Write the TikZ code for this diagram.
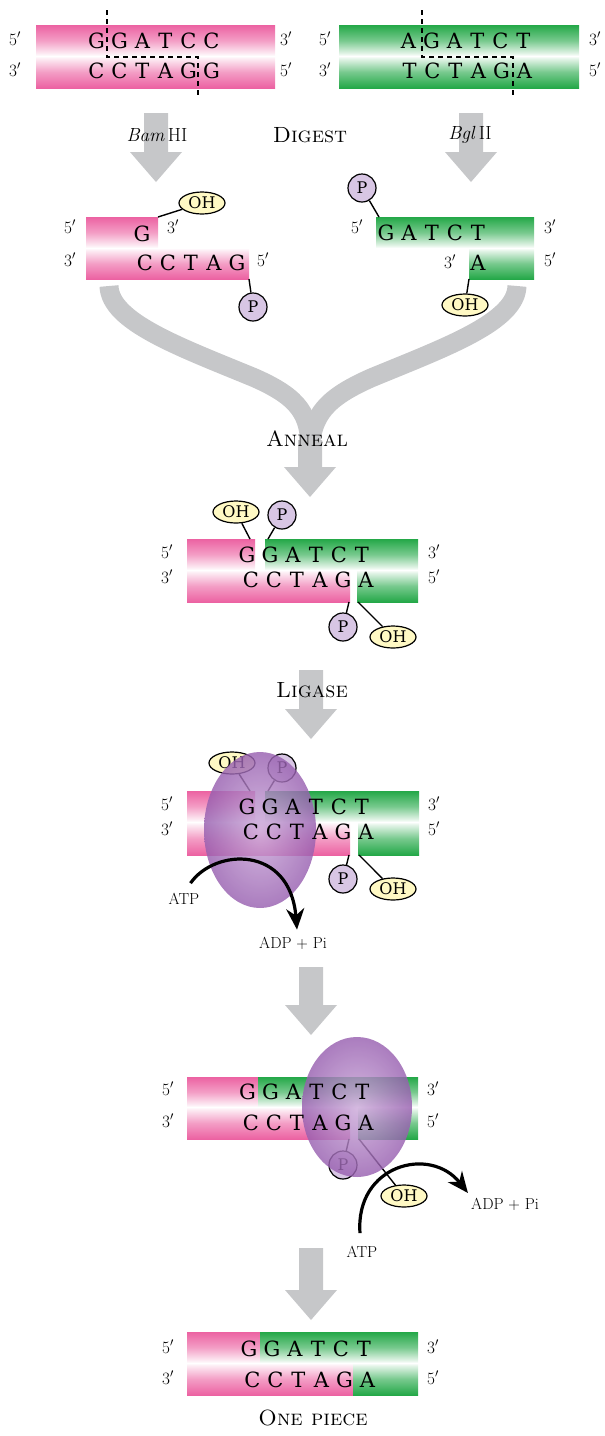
\documentclass[tikz,border=0pt]{standalone}
\usepackage{fontspec}
\usetikzlibrary{shapes.geometric,arrows.meta}

\definecolor{pinkc}{RGB}{236,98,162}
\definecolor{greenc}{RGB}{36,168,72}
\definecolor{arrowgray}{RGB}{198,199,201}
\definecolor{pfill}{RGB}{216,198,228}
\definecolor{ohfill}{RGB}{255,249,196}
\definecolor{enzdark}{RGB}{152,96,176}
\definecolor{enzlight}{RGB}{204,170,218}

\newfontfamily\schoolfont{DejaVu Serif}
\newcommand\dnabasefont{\schoolfont\fontsize{21}{21}\selectfont}
\newcommand\dnaendfont{\fontsize{17}{17}\selectfont}
\newcommand\dnatagfont{\schoolfont\fontsize{16}{16}\selectfont}
\newcommand\dnacapfont{\fontsize{22}{22}\selectfont}
\newcommand\dnanotefont{\fontsize{16}{16}\selectfont}

% strand fills: full colour at the outer edge, fading to white at the pairing line
\pgfdeclareverticalshading{pinkfadeup}{100bp}{color(0bp)=(white); color(25bp)=(white);
  color(29bp)=(pinkc!12); color(50bp)=(pinkc!62); color(75bp)=(pinkc); color(100bp)=(pinkc)}
\pgfdeclareverticalshading{pinkfadedown}{100bp}{color(0bp)=(pinkc); color(25bp)=(pinkc);
  color(50bp)=(pinkc!62); color(71bp)=(pinkc!12); color(75bp)=(white); color(100bp)=(white)}
\pgfdeclareverticalshading{greenfadeup}{100bp}{color(0bp)=(white); color(25bp)=(white);
  color(29bp)=(greenc!12); color(50bp)=(greenc!62); color(75bp)=(greenc); color(100bp)=(greenc)}
\pgfdeclareverticalshading{greenfadedown}{100bp}{color(0bp)=(greenc); color(25bp)=(greenc);
  color(50bp)=(greenc!62); color(71bp)=(greenc!12); color(75bp)=(white); color(100bp)=(white)}

% one base per fixed-width cell
\newcommand\basecell[1]{\makebox[23pt]{#1}}
\def\seqloop#1{\ifx#1\relax\else\basecell{#1}\expandafter\seqloop\fi}
\newcommand\dnaseq[1]{\seqloop#1\relax}

% wide gray process arrow: x, top, neck, tip
\newcommand\flowarrow[4]{%
  \fill[arrowgray] (#1-12,#2) -- (#1+12,#2) -- (#1+12,#3) -- (#1+26,#3)
    -- (#1,#4) -- (#1-26,#3) -- (#1-12,#3) -- cycle;}

\tikzset{
  strip/.style={inner sep=0, outer sep=0, anchor=north west, shade},
  pinkup/.style={strip, shading=pinkfadeup},
  pinkdn/.style={strip, shading=pinkfadedown},
  greenup/.style={strip, shading=greenfadeup},
  greendn/.style={strip, shading=greenfadedown},
  bases/.style={anchor=base, inner sep=0, font=\dnabasefont},
  endlab/.style={anchor=base, inner sep=0, font=\dnaendfont},
  ohtag/.style={ellipse, draw=black, line width=1.2pt, fill=ohfill, inner sep=0,
    minimum width=46pt, minimum height=22pt, font=\dnatagfont},
  ptag/.style={circle, draw=black, line width=1.2pt, fill=pfill, inner sep=0,
    minimum size=28pt, font=\dnatagfont},
  link/.style={line width=1.4pt, black},
  cutline/.style={line width=1.6pt, dash pattern=on 5pt off 4pt},
  stagelabel/.style={font=\dnacapfont, inner sep=0},
  chem/.style={font=\dnanotefont, inner sep=0},
  enzyme/.style={ellipse, inner sep=0, draw=none, inner color=enzlight,
    outer color=enzdark, opacity=0.82},
  turnover/.style={line width=3.2pt, -{Stealth[length=21pt,width=18pt]}},
  branch/.style={draw=arrowgray, line width=19pt},
}

\begin{document}
\begin{tikzpicture}[x=1pt,y=-1pt]
\useasboundingbox (0,0) rectangle (605,1436);

% ---------- anneal: two streams merging ----------
\draw[branch] (109,286) .. controls (110,322) and (180,347) .. (255,378)
  .. controls (300,398) and (310,415) .. (310,450);
\draw[branch] (517,286) .. controls (516,322) and (446,347) .. (371,378)
  .. controls (326,398) and (312,415) .. (310,450);
\flowarrow{310}{440}{467}{497}
\node[stagelabel] (anneal) at (307,439) {\textsc{Anneal}};

% ---------- BamHI site ----------
\node[pinkup, minimum width=239pt, minimum height=31pt] (bamT) at (36,25) {};
\node[pinkdn, minimum width=239pt, minimum height=32pt] (bamB) at (36,56) {};
\node[bases] (bamTs) at (154,48) {\dnaseq{GGATCC}};
\node[bases] (bamBs) at (154,78) {\dnaseq{CCTAGG}};
\node[endlab] (bamL1) at (15,45) {$5'$};
\node[endlab] (bamL2) at (15,76) {$3'$};
\node[endlab] (bamR1) at (286,45) {$3'$};
\node[endlab] (bamR2) at (286,76) {$5'$};
\draw[cutline] (107,10) -- (107,57) -- (198,57) -- (198,97);

% ---------- BglII site ----------
\node[greenup, minimum width=240pt, minimum height=31pt] (bglT) at (339,25) {};
\node[greendn, minimum width=240pt, minimum height=32pt] (bglB) at (339,56) {};
\node[bases] (bglTs) at (466,48) {\dnaseq{AGATCT}};
\node[bases] (bglBs) at (467,78) {\dnaseq{TCTAGA}};
\node[endlab] (bglL1) at (325,45) {$5'$};
\node[endlab] (bglL2) at (325,76) {$3'$};
\node[endlab] (bglR1) at (595,45) {$3'$};
\node[endlab] (bglR2) at (595,76) {$5'$};
\draw[cutline] (422,10) -- (422,57) -- (513,57) -- (513,97);

% ---------- digest ----------
\flowarrow{156}{113}{152}{182}
\flowarrow{471}{113}{152}{182}
\node[chem, font=\fontsize{19}{19}\selectfont] (bamname) at (157,135) {\textit{Bam}\,HI};
\node[stagelabel] (digest) at (310,135) {\textsc{Digest}};
\node[chem, font=\fontsize{19}{19}\selectfont] (bglname) at (470,135) {\textit{Bgl}\,II};

% ---------- BamHI fragment ----------
\node[pinkup, minimum width=72pt, minimum height=31pt] (lfT) at (86,217) {};
\node[pinkdn, minimum width=163pt, minimum height=31pt] (lfB) at (86,248) {};
\node[ohtag] (lfOH) at (202,203) {OH};
\node[ptag] (lfP) at (253,307) {P};
\draw[link] (lfT.north east) -- (lfOH);
\draw[link] (lfB.south east) -- (lfP);
\node[bases] (lfTs) at (142,241) {\dnaseq{G}};
\node[bases] (lfBs) at (191,270) {\dnaseq{CCTAG}};
\node[endlab] (lfL1) at (70,233) {$5'$};
\node[endlab] (lfL2) at (70,266) {$3'$};
\node[endlab] (lfM1) at (173,233) {$3'$};
\node[endlab] (lfR2) at (263,266) {$5'$};

% ---------- BglII fragment ----------
\node[greenup, minimum width=158pt, minimum height=31pt] (rfT) at (376,217) {};
\node[greendn, minimum width=65pt, minimum height=31pt] (rfB) at (469,248) {};
\node[ptag] (rfP) at (362,188) {P};
\node[ohtag] (rfOH) at (465,305) {OH};
\draw[link] ([xshift=3pt]rfT.north west) -- (rfP);
\draw[link] (rfB.south west) -- (rfOH);
\node[bases] (rfTs) at (432,240) {\dnaseq{GATCT}};
\node[bases] (rfBs) at (478,270) {\dnaseq{A}};
\node[endlab] (rfL1) at (357,233) {$5'$};
\node[endlab] (rfM2) at (450,268) {$3'$};
\node[endlab] (rfR1) at (550,233) {$3'$};
\node[endlab] (rfR2) at (550,266) {$5'$};

% ---------- annealed, two nicks ----------
\node[pinkup, minimum width=68pt, minimum height=31pt] (anT1) at (187,539) {};
\node[greenup, minimum width=153pt, minimum height=31pt] (anT2) at (265,539) {};
\node[pinkdn, minimum width=163pt, minimum height=32pt] (anB1) at (187,570) {};
\node[greendn, minimum width=61pt, minimum height=32pt] (anB2) at (357,570) {};
\node[ohtag] (anOH1) at (236,512) {OH};
\node[ptag] (anP1) at (282,515) {P};
\node[ptag] (anP2) at (343,627) {P};
\node[ohtag] (anOH2) at (393,637) {OH};
\draw[link] ([xshift=-5pt]anT1.north east) -- (anOH1);
\draw[link] ([xshift=3pt]anT2.north west) -- (anP1);
\draw[link] ([xshift=-1pt]anB1.south east) -- (anP2);
\draw[link] ([xshift=1pt]anB2.south west) -- (anOH2);
\node[bases] (anTs) at (304.5,562) {\dnaseq{GGATCT}};
\node[bases] (anBs) at (308.5,587) {\dnaseq{CCTAGA}};
\node[endlab] (anL1) at (167,558) {$5'$};
\node[endlab] (anL2) at (167,583) {$3'$};
\node[endlab] (anR1) at (434,558) {$3'$};
\node[endlab] (anR2) at (434,583) {$5'$};

% ---------- ligase ----------
\flowarrow{311}{670}{709}{739}
\node[stagelabel] (ligase) at (312,690) {\textsc{Ligase}};

% ---------- ligase on the top nick ----------
\node[pinkup, minimum width=68pt, minimum height=31pt] (lgT1) at (187,791) {};
\node[greenup, minimum width=154pt, minimum height=31pt] (lgT2) at (265,791) {};
\node[pinkdn, minimum width=163pt, minimum height=33pt] (lgB1) at (187,822) {};
\node[greendn, minimum width=61pt, minimum height=33pt] (lgB2) at (358,822) {};
\node[ohtag] (lgOH1) at (232,763) {OH};
\node[ptag] (lgP1) at (282,768) {P};
\node[ptag] (lgP2) at (343,879) {P};
\node[ohtag] (lgOH2) at (393,889) {OH};
\draw[link] ([xshift=-5pt]lgT1.north east) -- (lgOH1);
\draw[link] ([xshift=3pt]lgT2.north west) -- (lgP1);
\draw[link] ([xshift=-1pt]lgB1.south east) -- (lgP2);
\draw[link] ([xshift=1pt]lgB2.south west) -- (lgOH2);
\node[enzyme, minimum width=112pt, minimum height=156pt] (enz1) at (260,830) {};
\node[bases] (lgTs) at (304.5,814) {\dnaseq{GGATCT}};
\node[bases] (lgBs) at (308.5,839) {\dnaseq{CCTAGA}};
\node[endlab] (lgL1) at (167,810) {$5'$};
\node[endlab] (lgL2) at (167,835) {$3'$};
\node[endlab] (lgR1) at (434,810) {$3'$};
\node[endlab] (lgR2) at (434,835) {$5'$};
\node[chem] (atp1) at (184,899) {ATP};
\node[chem] (adp1) at (293,943) {ADP + Pi};
\draw[turnover] ([xshift=-9pt,yshift=10pt]atp1.north east)
  .. controls (215,848) and (290,845) .. ([xshift=4pt,yshift=7pt]adp1.north);

\flowarrow{311}{967}{1005}{1035}

% ---------- ligase on the bottom nick ----------
\node[pinkup, minimum width=71pt, minimum height=30pt] (lbT1) at (187,1077) {};
\node[greenup, minimum width=160pt, minimum height=30pt] (lbT2) at (258,1077) {};
\node[pinkdn, minimum width=163pt, minimum height=32pt] (lbB1) at (187,1107) {};
\node[greendn, minimum width=60pt, minimum height=32pt] (lbB2) at (358,1107) {};
\node[ptag] (lbP) at (343,1165) {P};
\node[ohtag] (lbOH) at (404,1196) {OH};
\draw[link] ([xshift=-1pt]lbB1.south east) -- (lbP);
\draw[link] ([xshift=1pt]lbB2.south west) -- (lbOH);
\node[enzyme, minimum width=110pt, minimum height=140pt] (enz2) at (357,1107) {};
\node[bases] (lbTs) at (305,1099) {\dnaseq{GGATCT}};
\node[bases] (lbBs) at (308.5,1130) {\dnaseq{CCTAGA}};
\node[endlab] (lbL1) at (168,1095) {$5'$};
\node[endlab] (lbL2) at (168,1127) {$3'$};
\node[endlab] (lbR1) at (433,1095) {$3'$};
\node[endlab] (lbR2) at (433,1127) {$5'$};
\node[chem] (atp2) at (362,1252) {ATP};
\node[chem] (adp2) at (505,1204) {ADP + Pi};
\draw[turnover] ([xshift=-2pt,yshift=13pt]atp2.north)
  .. controls (355,1165) and (430,1145) .. ([xshift=-3pt,yshift=11pt]adp2.west);

\flowarrow{311}{1248}{1290}{1320}

% ---------- sealed product ----------
\node[pinkup, minimum width=73pt, minimum height=31pt] (opT1) at (187,1332) {};
\node[greenup, minimum width=158pt, minimum height=31pt] (opT2) at (260,1332) {};
\node[pinkdn, minimum width=166pt, minimum height=32pt] (opB1) at (187,1363) {};
\node[greendn, minimum width=65pt, minimum height=32pt] (opB2) at (353,1363) {};
\node[bases] (opTs) at (306.5,1356) {\dnaseq{GGATCT}};
\node[bases] (opBs) at (310,1387) {\dnaseq{CCTAGA}};
\node[endlab] (opL1) at (168,1353) {$5'$};
\node[endlab] (opL2) at (168,1384) {$3'$};
\node[endlab] (opR1) at (433,1353) {$3'$};
\node[endlab] (opR2) at (433,1384) {$5'$};
\node[stagelabel] (onepiece) at (313,1418) {\textsc{One piece}};
\end{tikzpicture}
\end{document}
